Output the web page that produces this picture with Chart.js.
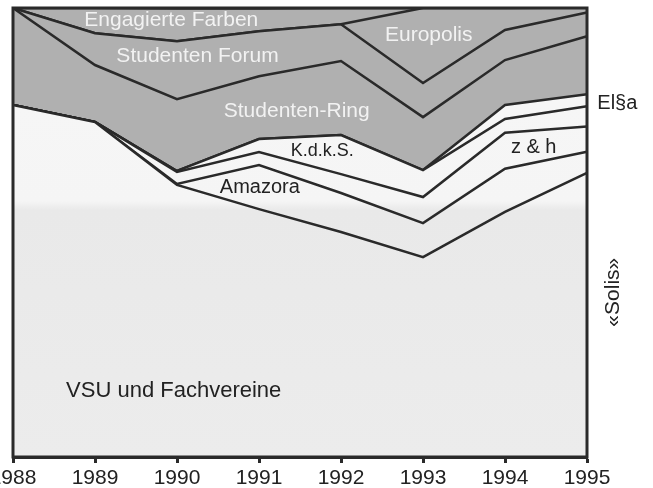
<!DOCTYPE html>
<html lang="de">
<head>
    <meta charset="UTF-8">
    <title>Stimmenanteile 1988-1995</title>
    <script src="https://cdn.jsdelivr.net/npm/chart.js"></script>
    <style>
        html, body { margin: 0; padding: 0; background: #fff; overflow: hidden; }
        #wrap { position: relative; width: 653px; height: 488px; overflow: hidden; }
        #chart { position: absolute; left: -40px; top: 0; }
    </style>
</head>
<body>
<div id="wrap">
    <canvas id="chart" width="693" height="494"></canvas>
</div>
<script>
    // Anteile in Prozent, von unten nach oben gestapelt
    const years = ['1988', '1989', '1990', '1991', '1992', '1993', '1994', '1995'];
    const vsu        = [78.4, 74.6, 60.6, 55.2, 50.1, 44.5, 54.6, 63.3];
    const amazora    = [0, 0, 0.2, 9.8, 8.7, 7.6, 9.6, 4.7];
    const zh         = [0, 0, 2.7, 2.9, 4.2, 5.8, 8.0, 5.6];
    const kdks       = [0, 0, 0.2, 2.9, 8.7, 6.0, 3.1, 4.5];
    const elsa       = [0, 0, 0, 0, 0, 0, 3.1, 2.7];
    const sRing      = [21.6, 12.7, 16.0, 14.0, 16.5, 11.8, 10.0, 12.9];
    const sForum     = [0, 7.1, 12.9, 10.0, 8.2, 7.6, 6.7, 5.3];
    const europolis  = [0, 0, 0, 0, 0, 16.7, 4.9, 1.1];
    const engFarben  = [0, 5.6, 7.3, 5.1, 3.6, 0, 0, 0];

    const FONT = '"Liberation Sans", Arial, sans-serif';
    const LINE = '#2a2a2a';
    const GREY = '#b0b0b0';

    // Papier wird unterhalb etwa der Mitte etwas grauer (Scan)
    function paper(ctx) {
        const chart = ctx.chart;
        const area = chart.chartArea;
        if (!area) return '#f3f3f3';
        const g = chart.ctx.createLinearGradient(0, area.top, 0, area.bottom);
        g.addColorStop(0, '#f7f7f7');
        g.addColorStop(0.43, '#f5f5f5');
        g.addColorStop(0.45, '#e9e9e9');
        g.addColorStop(1, '#ececec');
        return g;
    }

    function ds(label, data, bg, i) {
        return {
            label: label,
            data: data,
            backgroundColor: bg,
            borderColor: LINE,
            borderWidth: 2.5,
            pointRadius: 0,
            tension: 0,
            fill: i === 0 ? 'origin' : '-1'
        };
    }

    const labels = [
        { t: 'Engagierte Farben', x: 1.93, y: 97.3, c: '#f2f2f2', s: 21 },
        { t: 'Studenten Forum', x: 2.25, y: 89.3, c: '#f2f2f2', s: 21 },
        { t: 'Studenten-Ring', x: 3.46, y: 77.1, c: '#f2f2f2', s: 21 },
        { t: 'Europolis', x: 5.07, y: 94.0, c: '#f2f2f2', s: 21 },
        { t: 'K.d.k.S.', x: 3.77, y: 68.2, c: '#222', s: 18 },
        { t: 'Amazora', x: 3.01, y: 60.1, c: '#222', s: 20 },
        { t: 'z & h', x: 6.35, y: 69.0, c: '#222', s: 20 },
        { t: 'El§a', x: 7.37, y: 78.8, c: '#222', s: 20 },
        { t: '«Solis»', x: 7.32, y: 36.7, c: '#222', s: 21, rot: true },
        { t: 'VSU und Fachvereine', x: 1.96, y: 14.7, c: '#222', s: 22 }
    ];

    const areaLabels = {
        id: 'areaLabels',
        afterDraw(chart) {
            const c = chart.ctx;
            const xs = chart.scales.x, ys = chart.scales.y;
            const a = chart.chartArea;
            // Rahmen
            c.save();
            c.strokeStyle = LINE;
            c.lineWidth = 3;
            c.strokeRect(a.left, a.top, a.right - a.left, a.bottom - a.top);
            c.restore();

            labels.forEach(l => {
                c.save();
                c.font = l.s + 'px ' + FONT;
                c.fillStyle = l.c;
                c.textAlign = 'center';
                c.textBaseline = 'middle';
                c.translate(xs.getPixelForValue(l.x), ys.getPixelForValue(l.y));
                if (l.rot) c.rotate(-Math.PI / 2);
                c.fillText(l.t, 0, 0);
                c.restore();
            });
        }
    };

    new Chart(document.getElementById('chart'), {
        type: 'line',
        data: {
            labels: years,
            datasets: [
                ds('VSU und Fachvereine', vsu, paper, 0),
                ds('Amazora', amazora, paper, 1),
                ds('z & h', zh, paper, 2),
                ds('K.d.k.S.', kdks, paper, 3),
                ds('El§a', elsa, paper, 4),
                ds('Studenten-Ring', sRing, GREY, 5),
                ds('Studenten Forum', sForum, GREY, 6),
                ds('Europolis', europolis, GREY, 7),
                ds('Engagierte Farben', engFarben, GREY, 8)
            ]
        },
        options: {
            responsive: false,
            animation: false,
            layout: { padding: { left: 53, right: 66, top: 8, bottom: 0 } },
            plugins: {
                legend: { display: false },
                tooltip: { enabled: false }
            },
            scales: {
                x: {
                    offset: false,
                    grid: {
                        drawOnChartArea: false,
                        drawTicks: true,
                        tickLength: 6,
                        tickWidth: 3,
                        tickColor: LINE
                    },
                    border: { color: LINE, width: 3 },
                    ticks: {
                        color: '#222',
                        padding: 5,
                        maxRotation: 0,
                        autoSkip: false,
                        font: { family: FONT, size: 21, lineHeight: 1 }
                    }
                },
                y: {
                    display: false,
                    stacked: true,
                    min: 0,
                    max: 100
                }
            }
        },
        plugins: [areaLabels]
    });
</script>
</body>
</html>
